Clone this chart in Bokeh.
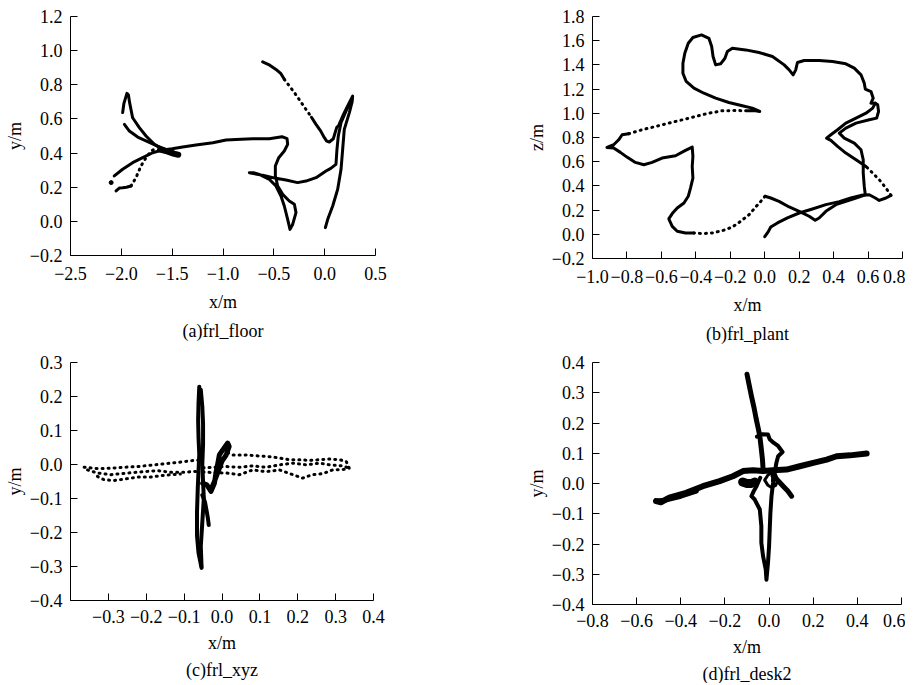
from bokeh.plotting import figure
from bokeh.layouts import gridplot
from bokeh.models import Range1d, FixedTicker, Title
from bokeh.embed import file_html
from bokeh.resources import INLINE

FONT = "Liberation Serif"

# ---------------- (a) frl_floor ----------------
a_xticks = [-2.5, -2.0, -1.5, -1.0, -0.5, 0.0, 0.5]
a_xlabels = ["\u22122.5", "\u22122.0", "\u22121.5", "\u22121.0", "\u22120.5", "0.0", "0.5"]
a_yticks = [-0.2, 0.0, 0.2, 0.4, 0.6, 0.8, 1.0, 1.2]
a_ylabels = ["\u22120.2", "0.0", "0.2", "0.4", "0.6", "0.8", "1.0", "1.2"]

a1_x = [-0.61, -0.54, -0.479, -0.43, -0.397]
a1_y = [0.934, 0.915, 0.89, 0.865, 0.832]
a1d_x = [-0.397, -0.35, -0.298, -0.24, -0.184, -0.13]
a1d_y = [0.832, 0.795, 0.754, 0.705, 0.656, 0.61]
a1b_x = [-0.13, -0.085, -0.04, -0.003, 0.02, 0.046, 0.085, 0.118, 0.138, 0.18, 0.23, 0.275,
         0.27, 0.243, 0.193, 0.177, 0.161, 0.128, 0.079, 0.03, 0.007]
a1b_y = [0.61, 0.568, 0.53, 0.49, 0.47, 0.465, 0.484, 0.549, 0.562, 0.62, 0.68, 0.734,
         0.70, 0.637, 0.539, 0.422, 0.305, 0.188, 0.09, 0.012, -0.037]
a2_x = [0.269, 0.21, 0.161, 0.134, 0.121, 0.111, 0.06, 0.013, -0.085, -0.184, -0.266, -0.38,
        -0.479, -0.61, -0.741, -0.70, -0.643, -0.544, -0.479, -0.43, -0.397, -0.364, -0.341,
        -0.315, -0.282, -0.298, -0.348, -0.413, -0.462, -0.485, -0.485, -0.452, -0.397, -0.364,
        -0.37, -0.42, -0.544, -0.708, -0.872, -0.97, -1.10, -1.266, -1.397, -1.50, -1.61,
        -1.692, -1.79, -1.889, -1.987, -2.069]
a2_y = [0.715, 0.646, 0.578, 0.50, 0.422, 0.334, 0.31, 0.295, 0.256, 0.236, 0.227, 0.242,
        0.252, 0.27, 0.285, 0.285, 0.275, 0.246, 0.207, 0.148, 0.09, 0.012, -0.047,
        -0.018, 0.051, 0.10, 0.119, 0.158, 0.207, 0.266, 0.324, 0.373, 0.412, 0.451,
        0.484, 0.496, 0.484, 0.484, 0.48, 0.477, 0.461, 0.447, 0.436, 0.425, 0.416,
        0.402, 0.373, 0.344, 0.305, 0.266]
a3_x = [-1.987, -1.975, -1.945, -1.93, -1.92, -1.889, -1.823, -1.757, -1.675, -1.593, -1.495, -1.446]
a3_y = [0.637, 0.69, 0.75, 0.74, 0.70, 0.607, 0.549, 0.50, 0.451, 0.422, 0.402, 0.389]
a4_x = [-1.97, -1.921, -1.839, -1.741, -1.643, -1.561, -1.50, -1.44]
a4_y = [0.568, 0.529, 0.494, 0.467, 0.441, 0.422, 0.41, 0.395]
a5_x = [-2.052, -2.02, -1.987, -1.95, -1.905]
a5_y = [0.178, 0.195, 0.197, 0.20, 0.207]
a5d_x = [-1.905, -1.856, -1.807, -1.757, -1.708, -1.643]
a5d_y = [0.207, 0.256, 0.324, 0.373, 0.412, 0.432]
a_knot_x = [-1.62, -1.55, -1.48, -1.44]
a_knot_y = [0.42, 0.41, 0.395, 0.39]
a_dot_x = [-2.10]
a_dot_y = [0.227]

# ---------------- (b) frl_plant ----------------
b_xticks = [-1.0, -0.8, -0.6, -0.4, -0.2, 0.0, 0.2, 0.4, 0.6, 0.8]
b_xlabels = ["\u22121.0", "\u22120.8", "\u22120.6", "\u22120.4", "\u22120.2", "0.0", "0.2", "0.4", "0.6", "0.8"]
b_yticks = [-0.2, 0.0, 0.2, 0.4, 0.6, 0.8, 1.0, 1.2, 1.4, 1.6, 1.8]
b_ylabels = ["\u22120.2", "0.0", "0.2", "0.4", "0.6", "0.8", "1.0", "1.2", "1.4", "1.6", "1.8"]

b1_x = [0.0, 0.02, 0.035, 0.074, 0.132, 0.20, 0.277, 0.355, 0.433, 0.50, 0.559, 0.607,
        0.642, 0.665, 0.704, 0.733]
b1_y = [-0.02, 0.02, 0.06, 0.094, 0.135, 0.176, 0.209, 0.245, 0.27, 0.30, 0.322, 0.327,
        0.30, 0.28, 0.30, 0.322]
b1d_x = [0.733, 0.704, 0.665, 0.627, 0.588]
b1d_y = [0.322, 0.382, 0.451, 0.506, 0.561]
b2_x = [0.588, 0.53, 0.471, 0.423, 0.384, 0.359, 0.384, 0.423, 0.471, 0.53, 0.588, 0.627,
        0.642, 0.656, 0.661, 0.65, 0.607, 0.53, 0.471, 0.433, 0.462, 0.52, 0.559, 0.572,
        0.572, 0.578, 0.584, 0.53, 0.471, 0.413, 0.355, 0.316, 0.293, 0.258, 0.20, 0.142,
        0.083, 0.035, 0.002]
b2_y = [0.561, 0.616, 0.671, 0.726, 0.776, 0.795, 0.823, 0.864, 0.919, 0.96, 1.001, 1.043,
        1.084, 1.07, 1.015, 0.96, 0.946, 0.919, 0.878, 0.836, 0.795, 0.754, 0.699, 0.616,
        0.506, 0.396, 0.327, 0.30, 0.272, 0.245, 0.19, 0.135, 0.116, 0.149, 0.19, 0.226,
        0.272, 0.30, 0.314]
b2d_x = [0.002, -0.023, -0.052, -0.091, -0.14, -0.188, -0.246, -0.305, -0.363, -0.411]
b2d_y = [0.314, 0.272, 0.226, 0.162, 0.107, 0.06, 0.03, 0.011, 0.006, 0.011]
b3_x = [-0.411, -0.46, -0.508, -0.537, -0.557, -0.537, -0.508, -0.469, -0.444, -0.431, -0.417,
        -0.421, -0.417, -0.421, -0.46, -0.518, -0.596, -0.654, -0.702, -0.751, -0.80, -0.838,
        -0.877, -0.916, -0.877, -0.848, -0.828, -0.79]
b3_y = [0.011, 0.011, 0.025, 0.066, 0.127, 0.171, 0.217, 0.259, 0.314, 0.382, 0.465,
        0.561, 0.644, 0.721, 0.693, 0.649, 0.63, 0.594, 0.575, 0.594, 0.638, 0.677,
        0.713, 0.718, 0.74, 0.781, 0.823, 0.831]
b3d_x = [-0.79, -0.712, -0.634, -0.557, -0.479, -0.402, -0.324, -0.246, -0.169, -0.111]
b3d_y = [0.831, 0.864, 0.891, 0.919, 0.946, 0.974, 1.001, 1.021, 1.023, 1.021]
b4_x = [-0.111, -0.062, -0.029, -0.072, -0.13, -0.208, -0.285, -0.353, -0.411, -0.456, -0.475,
        -0.475, -0.464, -0.444, -0.417, -0.367, -0.324, -0.308, -0.30, -0.285, -0.256, -0.231,
        -0.217, -0.188, -0.111, -0.033, 0.045, 0.113, 0.142, 0.165, 0.18, 0.19, 0.229, 0.316,
        0.394, 0.471, 0.52, 0.559, 0.578, 0.584, 0.617, 0.63, 0.617, 0.642]
b4_y = [1.021, 1.023, 1.015, 1.043, 1.062, 1.089, 1.125, 1.166, 1.208, 1.263, 1.331,
        1.414, 1.497, 1.579, 1.626, 1.648, 1.62, 1.552, 1.469, 1.40, 1.409, 1.455,
        1.51, 1.538, 1.524, 1.502, 1.469, 1.40, 1.359, 1.318, 1.359, 1.42, 1.436, 1.436,
        1.428, 1.409, 1.373, 1.318, 1.249, 1.20, 1.18, 1.125, 1.084, 1.084]

# ---------------- (c) frl_xyz ----------------
c_xticks = [-0.4, -0.3, -0.2, -0.1, 0.0, 0.1, 0.2, 0.3, 0.4]
c_xlabels = ["", "\u22120.3", "\u22120.2", "\u22120.1", "0.0", "0.1", "0.2", "0.3", "0.4"]
c_yticks = [-0.4, -0.3, -0.2, -0.1, 0.0, 0.1, 0.2, 0.3]
c_ylabels = ["\u22120.4", "\u22120.3", "\u22120.2", "\u22120.1", "0.0", "0.1", "0.2", "0.3"]

c_v1_x = [-0.06, -0.062, -0.063, -0.062, -0.06, -0.062, -0.064, -0.066, -0.066, -0.062, -0.054]
c_v1_y = [0.229, 0.18, 0.13, 0.08, 0.03, -0.02, -0.07, -0.14, -0.21, -0.26, -0.304]
c_v2_x = [-0.056, -0.052, -0.05, -0.05, -0.052, -0.05, -0.048, -0.052, -0.056, -0.054]
c_v2_y = [0.22, 0.17, 0.12, 0.06, 0.0, -0.05, -0.10, -0.17, -0.24, -0.30]
c_br_x = [-0.052, -0.045, -0.04, -0.037, -0.035]
c_br_y = [-0.09, -0.11, -0.14, -0.16, -0.178]
c_blob_x = [-0.051, -0.04, -0.029, -0.02, -0.016, -0.011, -0.007, 0.002, 0.015, 0.019, 0.011,
            0.0, -0.01, -0.02, -0.03]
c_blob_y = [-0.055, -0.06, -0.079, -0.055, -0.025, 0.004, 0.028, 0.043, 0.063, 0.053, 0.028,
            0.01, -0.02, -0.05, -0.075]
c_h1_x = [-0.364, -0.329, -0.293, -0.258, -0.223, -0.188, -0.152, -0.117, -0.082, -0.06]
c_h1_y = [-0.008, -0.012, -0.011, -0.008, -0.006, -0.002, 0.002, 0.006, 0.011, 0.013]
c_h2_x = [-0.355, -0.329, -0.293, -0.249, -0.205, -0.17, -0.135, -0.10, -0.078, -0.06]
c_h2_y = [-0.016, -0.025, -0.03, -0.025, -0.021, -0.018, -0.023, -0.023, -0.021, -0.02]
c_h3_x = [-0.329, -0.311, -0.285, -0.258, -0.223, -0.188, -0.161, -0.135, -0.11]
c_h3_y = [-0.035, -0.045, -0.047, -0.043, -0.037, -0.037, -0.033, -0.03, -0.028]
c_h4_x = [0.015, 0.028, 0.063, 0.099, 0.134, 0.152, 0.178, 0.204, 0.231, 0.257, 0.284, 0.31,
          0.328, 0.336]
c_h4_y = [0.035, 0.028, 0.028, 0.025, 0.022, 0.019, 0.014, 0.014, 0.012, 0.014, 0.016, 0.014,
          0.009, -0.011]
c_h5_x = [-0.05, -0.02, 0.011, 0.046, 0.081, 0.116, 0.152, 0.187, 0.222, 0.257, 0.284, 0.319, 0.336]
c_h5_y = [-0.01, -0.008, -0.006, -0.008, -0.004, -0.008, -0.001, 0.004, -0.001, 0.004, -0.001,
          -0.004, -0.011]
c_h6_x = [-0.05, -0.02, 0.011, 0.046, 0.081, 0.116, 0.152, 0.187, 0.213, 0.239, 0.266, 0.292, 0.328]
c_h6_y = [-0.022, -0.024, -0.025, -0.03, -0.016, -0.021, -0.016, -0.03, -0.04, -0.03, -0.027,
          -0.016, -0.014]

# ---------------- (d) frl_desk2 ----------------
d_xticks = [-0.8, -0.6, -0.4, -0.2, 0.0, 0.2, 0.4, 0.6]
d_xlabels = ["\u22120.8", "\u22120.6", "\u22120.4", "\u22120.2", "0.0", "0.2", "0.4", "0.6"]
d_yticks = [-0.4, -0.3, -0.2, -0.1, 0.0, 0.1, 0.2, 0.3, 0.4]
d_ylabels = ["\u22120.4", "\u22120.3", "\u22120.2", "\u22120.1", "0.0", "0.1", "0.2", "0.3", "0.4"]

d_top_x = [-0.10, -0.09, -0.08, -0.068, -0.058, -0.05, -0.042, -0.035, -0.03, -0.027]
d_top_y = [0.361, 0.325, 0.289, 0.25, 0.212, 0.185, 0.157, 0.113, 0.08, 0.046]
d_hook_x = [-0.055, -0.03, -0.005, 0.003, 0.02, 0.041, 0.061, 0.041, 0.033, 0.026, 0.018]
d_hook_y = [0.155, 0.163, 0.162, 0.146, 0.135, 0.124, 0.104, 0.09, 0.068, 0.035, 0.01]
d_hor_x = [-0.512, -0.49, -0.452, -0.376, -0.30, -0.224, -0.164, -0.118, -0.073, -0.027, 0.018,
           0.079, 0.139, 0.20, 0.261, 0.306, 0.367, 0.442]
d_hor_y = [-0.058, -0.062, -0.047, -0.031, -0.009, 0.008, 0.024, 0.041, 0.044, 0.041, 0.044,
           0.046, 0.057, 0.068, 0.079, 0.09, 0.093, 0.099]
d_ret_x = [-0.512, -0.47, -0.40, -0.33]
d_ret_y = [-0.058, -0.055, -0.042, -0.025]
d_blob_x = [-0.12, -0.10, -0.08, -0.065]
d_blob_y = [0.005, 0.0, 0.0, 0.005]
d_bot_x = [-0.04, -0.057, -0.07, -0.08, -0.065, -0.042, -0.035, -0.035, -0.027, -0.015, -0.012,
           -0.005, 0.0, 0.003, 0.006, 0.011, 0.018, 0.02]
d_bot_y = [0.019, -0.009, -0.026, -0.042, -0.053, -0.086, -0.141, -0.196, -0.241, -0.285,
           -0.318, -0.263, -0.207, -0.152, -0.097, -0.042, 0.002, 0.03]
d_diag_x = [0.018, 0.04, 0.064, 0.085, 0.102]
d_diag_y = [0.024, 0.01, -0.009, -0.025, -0.042]
d_ring_x = [-0.02, -0.005, 0.011, 0.03, 0.04, 0.03, 0.011, -0.005, -0.02]
d_ring_y = [0.011, 0.028, 0.035, 0.028, 0.011, -0.006, -0.013, -0.006, 0.011]


def make_fig(xr, yr, xt, xl, yt, yl, xlab, ylab, caption, fw, fh, bl, bt, br, bb, gaps):
    p = figure(output_backend="svg", toolbar_location=None, tools="",
               frame_width=fw, frame_height=fh,
               x_range=Range1d(*xr), y_range=Range1d(*yr),
               min_border_left=bl, min_border_top=bt, min_border_right=br, min_border_bottom=bb)
    p.grid.visible = False
    p.outline_line_color = None
    p.background_fill_color = "white"
    p.border_fill_color = "white"
    for ax, ticks, labels in ((p.xaxis[0], xt, xl), (p.yaxis[0], yt, yl)):
        ax.ticker = FixedTicker(ticks=ticks)
        ax.major_label_overrides = dict(zip(ticks, labels))
        ax.major_tick_in = 7
        ax.major_tick_out = 0
        ax.minor_tick_in = 0
        ax.minor_tick_out = 0
        ax.axis_line_color = "black"
        ax.major_tick_line_color = "black"
        ax.major_label_text_font = FONT
        ax.major_label_text_font_size = "18px"
        ax.major_label_text_color = "black"
        ax.axis_label_text_font = FONT
        ax.axis_label_text_font_style = "normal"
        ax.axis_label_text_font_size = "18px"
        ax.axis_label_text_color = "black"
    tick_gap, label_gap, title_gap = gaps
    p.xaxis[0].major_label_standoff = tick_gap
    p.yaxis[0].major_label_standoff = 8
    p.xaxis[0].axis_label = xlab
    p.yaxis[0].axis_label = ylab
    p.xaxis[0].axis_label_standoff = label_gap
    p.yaxis[0].axis_label_standoff = 2
    p.add_layout(Title(text=caption, align="center", text_font=FONT, text_font_size="18px",
                       text_font_style="normal", text_color="black", standoff=title_gap), "below")
    return p


def solid(p, x, y, w=3):
    p.line(x, y, line_width=w, line_color="black", line_join="round", line_cap="round")


def dotted(p, x, y, w=3):
    p.line(x, y, line_width=w, line_color="black", line_dash="1 5", line_cap="round")


ROW1_GAPS = (11, 9, 8)
ROW2_GAPS = (9, 7, 5)

pa = make_fig((-2.5, 0.5), (-0.2, 1.2), a_xticks, a_xlabels, a_yticks, a_ylabels,
              "x/m", "y/m", "(a)frl_floor", 305, 239, 66, 16, 80, 92, ROW1_GAPS)
solid(pa, a1_x, a1_y)
dotted(pa, a1d_x, a1d_y)
solid(pa, a1b_x, a1b_y)
solid(pa, a2_x, a2_y)
solid(pa, a3_x, a3_y)
solid(pa, a4_x, a4_y)
solid(pa, a5_x, a5_y)
dotted(pa, a5d_x, a5d_y)
solid(pa, a_knot_x, a_knot_y, 6)
pa.scatter(a_dot_x, a_dot_y, size=4, color="black")

pb = make_fig((-1.0, 0.8), (-0.2, 1.8), b_xticks, b_xlabels, b_yticks, b_ylabels,
              "x/m", "z/m", "(b)frl_plant", 310, 242, 138, 12, 3, 93, ROW1_GAPS)
solid(pb, b1_x, b1_y)
dotted(pb, b1d_x, b1d_y)
solid(pb, b2_x, b2_y)
dotted(pb, b2d_x, b2d_y)
solid(pb, b3_x, b3_y)
dotted(pb, b3d_x, b3d_y)
solid(pb, b4_x, b4_y)

pc = make_fig((-0.4, 0.4), (-0.4, 0.3), c_xticks, c_xlabels, c_yticks, c_ylabels,
              "x/m", "y/m", "(c)frl_xyz", 303, 238, 70, 15, 78, 75, ROW2_GAPS)
for hx, hy in ((c_h1_x, c_h1_y), (c_h2_x, c_h2_y), (c_h3_x, c_h3_y),
               (c_h4_x, c_h4_y), (c_h5_x, c_h5_y), (c_h6_x, c_h6_y)):
    dotted(pc, hx, hy)
solid(pc, c_v1_x, c_v1_y, 4)
solid(pc, c_v2_x, c_v2_y, 4)
solid(pc, c_br_x, c_br_y, 4)
solid(pc, c_blob_x, c_blob_y, 5)

pd = make_fig((-0.8, 0.6), (-0.4, 0.4), d_xticks, d_xlabels, d_yticks, d_ylabels,
              "x/m", "y/m", "(d)frl_desk2", 309, 242, 138, 12, 4, 74, ROW2_GAPS)
solid(pd, d_top_x, d_top_y, 5)
solid(pd, d_hook_x, d_hook_y, 4)
solid(pd, d_hor_x, d_hor_y, 6)
solid(pd, d_ret_x, d_ret_y, 5)
solid(pd, d_blob_x, d_blob_y, 9)
solid(pd, d_bot_x, d_bot_y, 4)
solid(pd, d_diag_x, d_diag_y, 5)
solid(pd, d_ring_x, d_ring_y, 3)

grid = gridplot([[pa, pb], [pc, pd]], toolbar_location=None)
open("out.html", "w").write(file_html(grid, INLINE))
